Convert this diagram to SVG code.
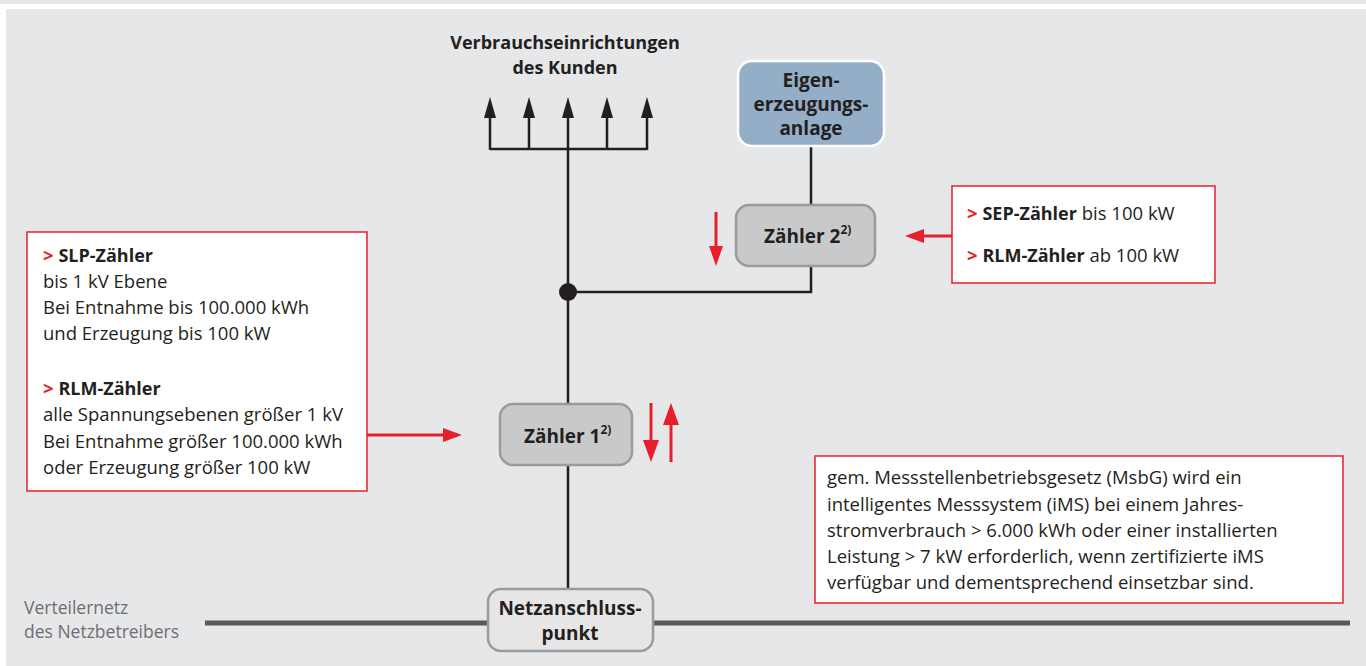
<svg xmlns="http://www.w3.org/2000/svg" width="1366" height="666" viewBox="0 0 1366 666">
<defs>
<style>
text{font-family:"Open Sans","Liberation Sans",sans-serif;fill:#231f20}
.t{font-size:18.5px}
.v{font-size:17.5px;fill:#6d6e71}
.h{font-size:18px;font-weight:bold}
.n{font-size:19px;font-weight:bold}
.b{font-weight:bold}
.c{text-anchor:middle}
.red{fill:#e5202b}
.box{fill:#fff;stroke:#e5202b;stroke-width:1.5}
.ln{stroke:#231f20;stroke-width:2.5;fill:none}
.ra{stroke:#e5202b;stroke-width:3;fill:none}
.meter{fill:#c8c9cb;stroke:#9a9b9d;stroke-width:2.5}
</style>
</defs>
<rect width="1366" height="666" fill="#fff"/>
<rect x="0" y="0" width="1366" height="4" fill="#e6e7e9"/>
<rect x="6" y="9" width="1360" height="657" fill="#e6e7e9"/>

<g id="connectors">
<line x1="205" y1="623" x2="1350" y2="623" stroke="#58595b" stroke-width="5"/>
<path class="ln" d="M568,588 V465 M568,403 V118"/>
<path class="ln" d="M490,149 H647 M490,150 V118 M529,150 V118 M607,150 V118 M647,150 V118"/>
<path class="ln" d="M568,292 H811 V266 M811,205 V146"/>
<circle cx="568" cy="292" r="9" fill="#231f20"/>
<g fill="#231f20">
<path d="M484,118 L490,97 L496,118 Z"/><path d="M523,118 L529,97 L535,118 Z"/><path d="M562,118 L568,97 L574,118 Z"/><path d="M601,118 L607,97 L613,118 Z"/><path d="M641,118 L647,97 L653,118 Z"/>
</g>
<g fill="#e5202b">
<line class="ra" x1="367" y1="435" x2="445" y2="435"/><path d="M443,428 L462,435 L443,442 Z"/>
<line class="ra" x1="952" y1="236" x2="922" y2="236"/><path d="M924,229 L905,236 L924,243 Z"/>
<line class="ra" x1="716" y1="212" x2="716" y2="250"/><path d="M709,246 L716,266 L723,246 Z"/>
<line class="ra" x1="651" y1="403" x2="651" y2="445"/><path d="M643,440 L651,462 L659,440 Z"/>
<line class="ra" x1="671" y1="462" x2="671" y2="420"/><path d="M663,425 L671,403 L679,425 Z"/>
</g>
</g>

<g id="title">
<text class="h c" x="565" y="49">Verbrauchseinrichtungen</text>
<text class="h c" x="565" y="74">des Kunden</text>
</g>

<g id="eigen">
<rect x="738" y="61" width="146" height="85" rx="14" fill="#94aec8" stroke="#fff" stroke-width="2.5"/>
<text class="n c" x="811" y="87">Eigen-</text>
<text class="n c" x="811" y="111">erzeugungs-</text>
<text class="n c" x="811" y="135">anlage</text>
</g>

<g id="zaehler2">
<rect class="meter" x="736" y="205" width="139" height="61" rx="13"/>
<text class="n" x="764" y="243">Zähler 2<tspan font-size="12" dy="-9">2)</tspan></text>
</g>

<g id="zaehler1">
<rect class="meter" x="500" y="404" width="132" height="61" rx="13"/>
<text class="n" x="524" y="443">Zähler 1<tspan font-size="12" dy="-9">2)</tspan></text>
</g>

<g id="netz">
<rect x="488" y="589" width="165" height="62" rx="13" fill="#e6e6e6" stroke="#9a9b9d" stroke-width="2.5"/>
<text class="n c" x="570" y="615">Netzanschluss-</text>
<text class="n c" x="570" y="640">punkt</text>
</g>

<g id="verteilernetz">
<text class="v" x="24" y="614">Verteilernetz</text>
<text class="v" x="24" y="638">des Netzbetreibers</text>
</g>

<g id="left-box">
<rect class="box" x="27" y="232" width="340" height="259"/>
<text class="t" x="43" y="262"><tspan class="b red">&gt;</tspan> <tspan class="h">SLP-Zähler</tspan></text>
<text class="t" x="43" y="288">bis 1 kV Ebene</text>
<text class="t" x="43" y="314">Bei Entnahme bis 100.000 kWh</text>
<text class="t" x="43" y="340">und Erzeugung bis 100 kW</text>
<text class="t" x="43" y="395"><tspan class="b red">&gt;</tspan> <tspan class="h">RLM-Zähler</tspan></text>
<text class="t" x="43" y="421">alle Spannungsebenen größer 1 kV</text>
<text class="t" x="43" y="448">Bei Entnahme größer 100.000 kWh</text>
<text class="t" x="43" y="474">oder Erzeugung größer 100 kW</text>
</g>

<g id="sep-box">
<rect class="box" x="952" y="186" width="263" height="97"/>
<text class="t" x="967" y="220"><tspan class="b red">&gt;</tspan> <tspan class="h">SEP-Zähler</tspan> bis 100 kW</text>
<text class="t" x="967" y="262"><tspan class="b red">&gt;</tspan> <tspan class="h">RLM-Zähler</tspan> ab 100 kW</text>
</g>

<g id="msbg-box">
<rect class="box" x="815" y="456" width="528" height="147"/>
<text class="t" x="827" y="484">gem. Messstellenbetriebsgesetz (MsbG) wird ein</text>
<text class="t" x="827" y="511">intelligentes Messsystem (iMS) bei einem Jahres-</text>
<text class="t" x="827" y="537">stromverbrauch &gt; 6.000 kWh oder einer installierten</text>
<text class="t" x="827" y="563">Leistung &gt; 7 kW erforderlich, wenn zertifizierte iMS</text>
<text class="t" x="827" y="589">verfügbar und dementsprechend einsetzbar sind.</text>
</g>
</svg>
